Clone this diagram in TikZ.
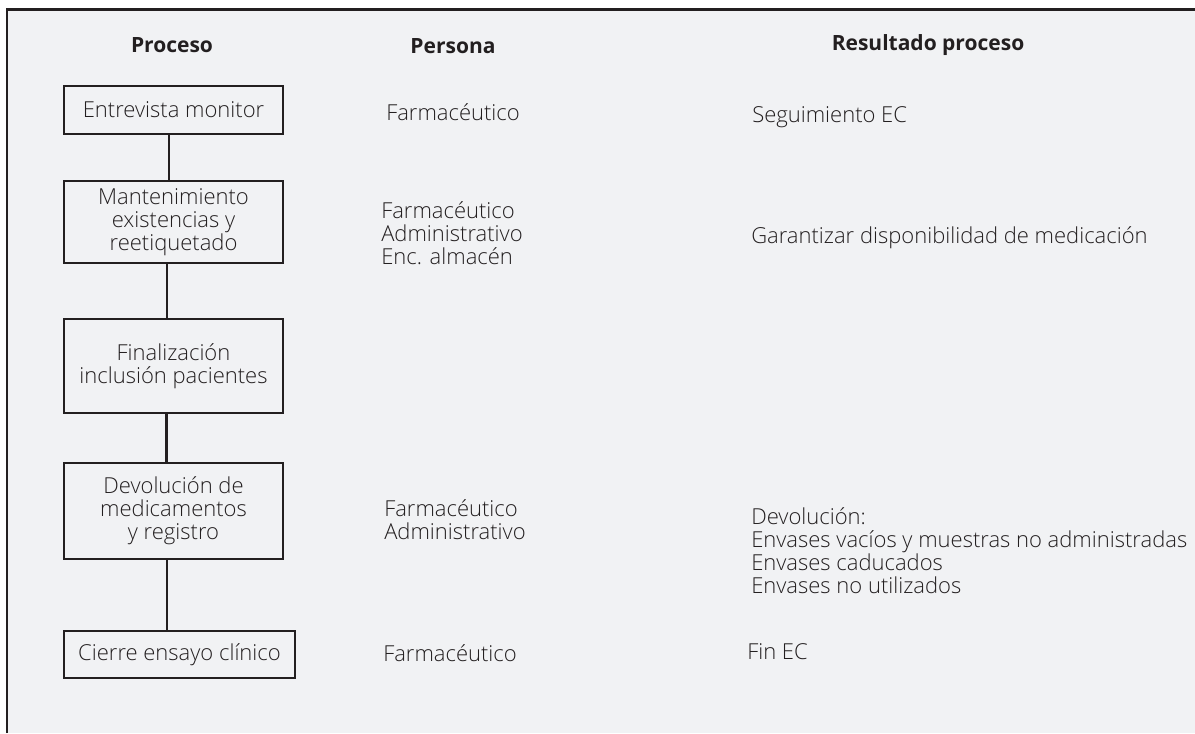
\documentclass[tikz,border=0pt]{standalone}
\usepackage{fontspec}
\setmainfont{Open Sans}[UprightFont={* Light}, BoldFont={* Bold}]
\definecolor{bgc}{HTML}{F1F2F4}
\definecolor{ink}{HTML}{231F20}
\definecolor{txt}{HTML}{231F20}
\begin{document}
\begin{tikzpicture}[x=0.75pt,y=-0.75pt,
  every node/.style={inner sep=0pt, text=txt, font=\fontsize{16.5}{17.4}\selectfont},
  procbox/.style={draw=ink, line width=2pt, align=center, minimum width=164.25pt},
  conn/.style={draw=ink, line width=2pt},
  head/.style={font=\fontsize{15.75}{17.25}\selectfont\bfseries, text=ink},
  info/.style={anchor=west, align=left}
]
\useasboundingbox (0,0) rectangle (1195,733);
\fill[white] (0,0) rectangle (1195,733);
\fill[bgc] (7,9.5) rectangle (1195,733);
\draw[ink, line width=2pt] (7,733) -- (7,9.5) -- (1195,9.5);

% headers
\node[head] (h1) at (172,45) {Proceso};
\node[head] (h2) at (453,46) {Persona};
\node[head] (h3) at (928,45) {Resultado proceso};

% process boxes
\node[procbox, minimum height=36pt] (b1) at (173.5,110) {Entrevista monitor};
\node[procbox, minimum height=61.5pt] (b2) at (173.5,222) {Mantenimiento\\existencias y\\reetiquetado};
\node[procbox, minimum height=70.5pt] (b3) at (173.5,366) {Finalización\\inclusión pacientes};
\node[procbox, minimum height=72pt] (b4) at (173.5,511) {Devolución de\\medicamentos\\y registro};
\node[procbox, minimum height=35.25pt, minimum width=173.25pt] (b5) at (179.5,654.5) {Cierre ensayo clínico};

% connectors
\draw[conn] ([xshift=-3.4pt]b1.south) -- ([xshift=-3.4pt]b2.north);
\draw[conn] ([xshift=-4.8pt]b2.south) -- ([xshift=-4.8pt]b3.north);
\draw[conn] ([xshift=-5.2pt]b3.south) -- ([xshift=-5.2pt]b4.north);
\draw[conn] ([xshift=-4.8pt]b4.south) -- ([xshift=-9.3pt]b5.north);

% persona
\node[info] (p1) at (386,112) {Farmacéutico};
\node[info] (p2) at (381,233) {Farmacéutico\\Administrativo\\Enc. almacén};
\node[info] (p3) at (384,520) {Farmacéutico\\Administrativo};
\node[info] (p4) at (383,653) {Farmacéutico};

% resultado
\node[info] (r1) at (752,117) {Seguimiento EC};
\node[info] (r2) at (751,238) {Garantizar disponibilidad de medicación};
\node[info] (r3) at (751,550.5) {Devolución:\\Envases vacíos y muestras no administradas\\Envases caducados\\Envases no utilizados};
\node[info] (r4) at (747,652) {Fin EC};
\end{tikzpicture}
\end{document}
